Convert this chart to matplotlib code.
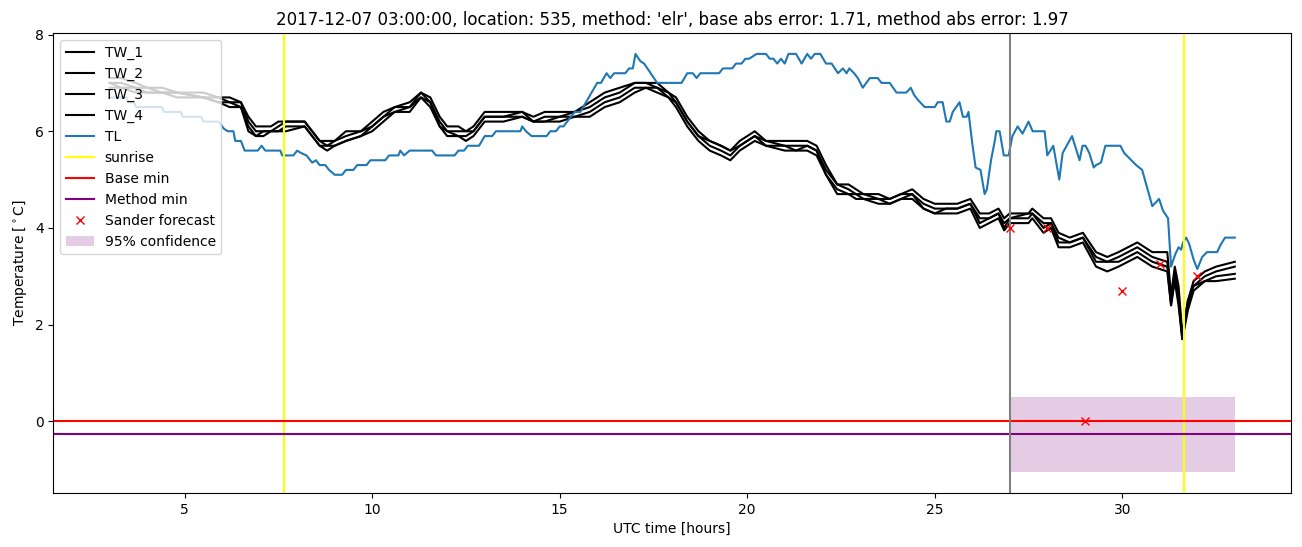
import matplotlib
matplotlib.use('Agg')
import matplotlib.pyplot as plt

# --- data ---
tl_hours = [3.0, 3.45, 3.5, 3.65, 3.7, 4.4, 4.45, 4.9, 4.95, 5.45, 5.5, 5.9, 6.05, 6.15, 6.3, 6.35,
            6.5, 6.6, 6.95, 7.05, 7.15, 7.55, 7.6, 7.9, 8.0, 8.1, 8.25, 8.4, 8.5, 8.6, 8.75, 8.85,
            9.0, 9.2, 9.3, 9.5, 9.6, 9.85, 9.95, 10.35, 10.45, 10.7, 10.75, 10.85, 11.0, 11.6, 11.7,
            12.2, 12.3, 12.45, 12.55, 12.85, 13.0, 13.2, 13.3, 13.95, 14.0, 14.1, 14.25, 14.65, 14.75,
            14.9, 15.0, 15.1, 15.2, 15.3, 15.4, 15.55, 16.0, 16.1, 16.25, 16.35, 16.45, 16.75, 16.85,
            16.95, 17.02, 17.15, 17.25, 17.6, 18.25, 18.4, 18.55, 18.65, 18.75, 19.25, 19.35, 19.6,
            19.7, 19.85, 19.95, 20.05, 20.25, 20.5, 20.6, 20.7, 20.8, 20.9, 21.0, 21.1, 21.3, 21.45,
            21.6, 21.7, 21.8, 21.95, 22.1, 22.25, 22.42, 22.55, 22.65, 22.72, 22.85, 22.95, 23.08,
            23.27, 23.48, 23.58, 23.8, 23.98, 24.24, 24.36, 24.45, 24.55, 24.73, 25.0, 25.08, 25.21,
            25.31, 25.4, 25.48, 25.66, 25.75, 25.85, 25.9, 26.0, 26.09, 26.22, 26.33, 26.39, 26.5,
            26.6, 26.64, 26.73, 26.84, 26.97, 27.07, 27.21, 27.34, 27.5, 27.61, 27.93, 28.0, 28.16,
            28.32, 28.41, 28.66, 28.86, 28.94, 29.02, 29.12, 29.24, 29.3, 29.43, 29.55, 29.95, 30.05,
            30.24, 30.37, 30.53, 30.8, 30.98, 31.09, 31.22, 31.3, 31.41, 31.5, 31.57, 31.62, 31.7,
            31.78, 31.9, 32.0, 32.13, 32.26, 32.53, 32.62, 32.74, 33.0]
tl_values = [6.7, 6.7, 6.6, 6.6, 6.5, 6.5, 6.4, 6.4, 6.3, 6.3, 6.2, 6.2, 6.05, 6.0, 6.0, 5.8,
             5.8, 5.6, 5.6, 5.7, 5.6, 5.6, 5.5, 5.5, 5.6, 5.55, 5.5, 5.35, 5.4, 5.3, 5.3, 5.2,
             5.1, 5.1, 5.2, 5.2, 5.3, 5.3, 5.4, 5.4, 5.5, 5.5, 5.6, 5.5, 5.6, 5.6, 5.5,
             5.5, 5.6, 5.6, 5.7, 5.7, 5.9, 5.9, 6.0, 6.0, 6.1, 6.0, 5.9, 5.9, 6.0,
             6.0, 6.1, 6.1, 6.2, 6.3, 6.4, 6.4, 7.0, 7.0, 7.2, 7.1, 7.2, 7.2, 7.3,
             7.3, 7.6, 7.45, 7.4, 7.0, 7.0, 7.2, 7.2, 7.1, 7.2, 7.2, 7.3, 7.3,
             7.4, 7.4, 7.5, 7.5, 7.6, 7.6, 7.5, 7.5, 7.4, 7.5, 7.4, 7.6, 7.6, 7.4,
             7.6, 7.5, 7.6, 7.6, 7.4, 7.4, 7.2, 7.3, 7.2, 7.3, 7.2, 7.1, 6.9,
             7.1, 7.1, 7.0, 7.0, 6.8, 6.8, 6.9, 6.75, 6.65, 6.5, 6.5, 6.6, 6.6,
             6.2, 6.2, 6.4, 6.6, 6.3, 6.3, 6.4, 5.75, 5.25, 5.2, 4.7, 4.8, 5.4,
             5.8, 6.0, 6.0, 5.5, 5.5, 5.9, 6.1, 5.95, 6.2, 6.0, 6.0, 5.5, 5.7,
             5.0, 5.55, 5.9, 5.4, 5.7, 5.7, 5.55, 5.25, 5.3, 5.35, 5.7, 5.7, 5.55,
             5.4, 5.3, 5.2, 4.45, 4.6, 4.35, 4.2, 3.2, 3.45, 3.6, 3.55, 3.7, 3.8,
             3.68, 3.35, 3.15, 3.4, 3.5, 3.5, 3.65, 3.8, 3.8]

tw_hours = [3.0, 3.3, 3.7, 4.0, 4.4, 4.8, 5.5, 5.9, 6.2, 6.5, 6.7, 6.9, 7.1, 7.3, 7.5, 7.7, 8.2,
            8.4, 8.6, 8.8, 9.0, 9.3, 9.7, 10.0, 10.3, 10.6, 11.0, 11.3, 11.55, 11.8, 12.0, 12.3,
            12.5, 12.7, 13.0, 13.5, 14.0, 14.3, 14.6, 15.0, 15.4, 15.8, 16.2, 16.6, 17.0, 17.3,
            17.6, 17.9, 18.1, 18.4, 18.7, 19.0, 19.3, 19.55, 19.8, 20.2, 20.5, 21.0, 21.3, 21.6,
            21.85, 22.1, 22.4, 22.7, 22.9, 23.1, 23.5, 23.8, 24.1, 24.4, 24.7, 25.0, 25.3, 25.6,
            25.95, 26.2, 26.45, 26.7, 26.85, 27.0, 27.5, 27.6, 27.9, 28.1, 28.3, 28.6, 28.95,
            29.3, 29.6, 29.9, 30.4, 30.8, 31.2, 31.3, 31.4, 31.5, 31.6, 31.75, 31.9, 32.2, 32.5, 33.0]
tw_1 = [7.1, 7.1, 7.0, 6.9, 6.9, 6.8, 6.8, 6.7, 6.7, 6.6, 6.3, 6.1, 6.1, 6.1, 6.2, 6.2, 6.2,
        6.0, 5.8, 5.8, 5.8, 6.0, 6.0, 6.2, 6.4, 6.5, 6.6, 6.8, 6.7, 6.3, 6.1, 6.1,
        6.0, 6.1, 6.4, 6.4, 6.4, 6.3, 6.4, 6.4, 6.4, 6.6, 6.8, 6.9, 7.0, 7.0,
        7.0, 6.8, 6.7, 6.3, 6.0, 5.8, 5.7, 5.6, 5.8, 6.0, 5.8, 5.8, 5.8, 5.8,
        5.7, 5.3, 4.9, 4.9, 4.8, 4.7, 4.7, 4.6, 4.7, 4.8, 4.6, 4.5, 4.5, 4.5,
        4.6, 4.3, 4.3, 4.4, 4.2, 4.3, 4.3, 4.4, 4.2, 4.2, 3.9, 3.8, 3.9,
        3.5, 3.4, 3.5, 3.7, 3.5, 3.5, 2.6, 3.2, 2.8, 1.8, 2.5, 2.9, 3.1, 3.2, 3.3]
tw_2 = [7.0, 7.0, 6.9, 6.9, 6.8, 6.8, 6.7, 6.7, 6.6, 6.6, 6.2, 6.0, 6.0, 6.0, 6.1, 6.2, 6.2,
        6.0, 5.8, 5.7, 5.8, 5.9, 6.0, 6.1, 6.3, 6.5, 6.5, 6.8, 6.6, 6.2, 6.0, 6.0,
        6.0, 6.0, 6.3, 6.3, 6.4, 6.2, 6.3, 6.3, 6.4, 6.5, 6.7, 6.8, 7.0, 7.0,
        6.9, 6.8, 6.6, 6.2, 5.9, 5.8, 5.7, 5.6, 5.7, 5.9, 5.8, 5.7, 5.7, 5.7,
        5.6, 5.2, 4.9, 4.8, 4.7, 4.7, 4.6, 4.6, 4.7, 4.7, 4.5, 4.4, 4.4, 4.4,
        4.5, 4.2, 4.2, 4.3, 4.1, 4.2, 4.3, 4.3, 4.1, 4.1, 3.8, 3.7, 3.8,
        3.4, 3.3, 3.4, 3.6, 3.4, 3.3, 2.5, 3.1, 2.6, 1.75, 2.5, 2.8, 3.0, 3.1, 3.2]
tw_3 = [7.0, 6.9, 6.9, 6.8, 6.8, 6.8, 6.7, 6.6, 6.6, 6.5, 6.1, 5.9, 6.0, 6.0, 6.0, 6.1, 6.1,
        5.9, 5.7, 5.7, 5.7, 5.8, 5.9, 6.1, 6.3, 6.4, 6.5, 6.7, 6.6, 6.1, 6.0, 5.9,
        5.9, 6.0, 6.3, 6.3, 6.3, 6.2, 6.2, 6.3, 6.3, 6.4, 6.6, 6.7, 6.9, 6.9,
        6.9, 6.7, 6.6, 6.2, 5.9, 5.7, 5.6, 5.5, 5.7, 5.9, 5.7, 5.7, 5.6, 5.7,
        5.6, 5.1, 4.8, 4.7, 4.7, 4.6, 4.6, 4.5, 4.6, 4.7, 4.4, 4.3, 4.4, 4.4,
        4.5, 4.1, 4.2, 4.3, 4.0, 4.2, 4.2, 4.3, 4.0, 4.1, 3.7, 3.7, 3.8,
        3.3, 3.3, 3.3, 3.5, 3.3, 3.2, 2.4, 3.0, 2.5, 1.7, 2.4, 2.8, 2.9, 3.0, 3.05]
tw_4 = [6.9, 6.9, 6.8, 6.8, 6.8, 6.7, 6.7, 6.6, 6.5, 6.5, 6.0, 5.9, 5.9, 6.0, 6.0, 6.0, 6.1,
        5.9, 5.7, 5.6, 5.7, 5.8, 5.9, 6.0, 6.2, 6.4, 6.4, 6.7, 6.5, 6.1, 5.9, 5.9,
        5.8, 5.9, 6.2, 6.2, 6.3, 6.2, 6.2, 6.2, 6.3, 6.3, 6.5, 6.6, 6.8, 6.9,
        6.8, 6.7, 6.5, 6.1, 5.8, 5.6, 5.5, 5.4, 5.6, 5.8, 5.7, 5.6, 5.6, 5.6,
        5.5, 5.1, 4.7, 4.7, 4.6, 4.6, 4.5, 4.5, 4.6, 4.6, 4.4, 4.3, 4.3, 4.3,
        4.4, 4.0, 4.1, 4.2, 3.95, 4.1, 4.1, 4.2, 3.9, 4.0, 3.6, 3.6, 3.7,
        3.2, 3.1, 3.2, 3.4, 3.2, 3.1, 2.4, 2.9, 2.4, 1.7, 2.3, 2.7, 2.9, 2.9, 2.95]

sunrise_hours = [7.65, 31.65]
base_min = 0.0
method_min = -0.26
forecast_start = 27.0
sander_hours = [27, 28, 29, 30, 31, 32]
sander_values = [4.0, 4.0, 0.0, 2.7, 3.25, 3.0]
conf_hours = [27.0, 33.0]
conf_low = [-1.05, -1.05]
conf_high = [0.5, 0.5]

fig, ax = plt.subplots(figsize=(13.02, 5.47), dpi=100)

for name, vals in zip(['TW_1', 'TW_2', 'TW_3', 'TW_4'], [tw_1, tw_2, tw_3, tw_4]):
    ax.plot(tw_hours, vals, color='black', label=name)
ax.plot(tl_hours, tl_values, color='tab:blue', label='TL')

for i, h in enumerate(sunrise_hours):
    ax.axvline(h, color='yellow', label='sunrise' if i == 0 else None)
ax.axhline(base_min, color='red', label='Base min')
ax.axhline(method_min, color='purple', label='Method min')
ax.axvline(forecast_start, color='gray')
ax.plot(sander_hours, sander_values, 'x', color='red', label='Sander forecast')
ax.fill_between(conf_hours, conf_low, conf_high, color='purple', alpha=0.2, linewidth=0,
                label='95% confidence')

ax.set_xlabel('UTC time [hours]')
ax.set_ylabel(r'Temperature [$^\circ$C]')
ax.set_title("2017-12-07 03:00:00, location: 535, method: 'elr', base abs error: 1.71, "
             "method abs error: 1.97")
ax.legend(loc='upper left')

plt.subplots_adjust(left=0.041, right=0.9916, top=0.9397, bottom=0.0987)
plt.savefig('out.png')
